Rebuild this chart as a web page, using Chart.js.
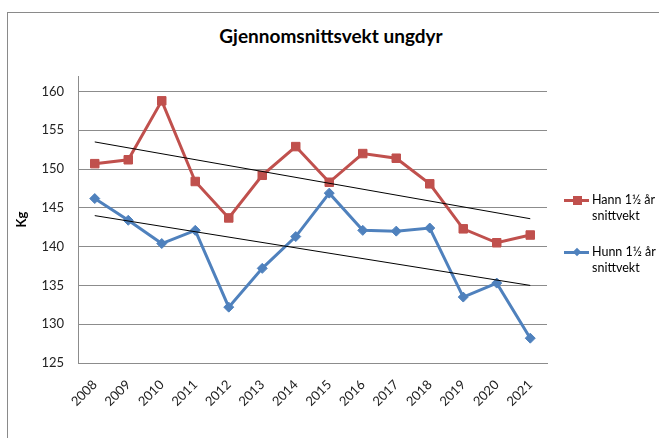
<!DOCTYPE html>
<html>
<head>
<meta charset="utf-8">
<script src="https://cdn.jsdelivr.net/npm/chart.js@4"></script>
<style>
  html, body { margin: 0; padding: 0; background: #fff; }
  #wrap { position: relative; width: 659px; height: 438px; overflow: hidden; }
  #frame { position: absolute; left: 7px; top: 12px; width: 700px; height: 500px;
           border-top: 1px solid #8a8a8a; border-left: 1px solid #8a8a8a; }
  #title { position: absolute; left: 0; width: 662px; top: 24px; text-align: center;
           font: bold 19px Lato, "Liberation Sans", sans-serif; color: #000; }
  canvas { position: absolute; left: 0; top: 0; }
  .lg { position: absolute; left: 564px; font: 12.5px Lato, "Liberation Sans", sans-serif;
        color: #000; line-height: 16px; }
  .lg .mk { position: absolute; left: 0; top: 6px; width: 25px; height: 3px; }
  .lg .txt { position: absolute; left: 28px; top: -1px; white-space: nowrap; }
</style>
</head>
<body>
<div id="wrap">
  <div id="frame"></div>
  <div id="title">Gjennomsnittsvekt ungdyr</div>
  <canvas id="c" width="659" height="438"></canvas>
  <div id="legend"></div>
</div>
<script>
const years = ['2008','2009','2010','2011','2012','2013','2014','2015','2016','2017','2018','2019','2020','2021'];
const hann = [150.7, 151.2, 158.8, 148.4, 143.7, 149.2, 152.9, 148.3, 152.0, 151.4, 148.1, 142.3, 140.5, 141.5];
const hunn = [146.2, 143.4, 140.4, 142.1, 132.2, 137.2, 141.3, 146.9, 142.1, 142.0, 142.4, 133.5, 135.3, 128.2];
const hannTrend = [153.5, null, null, null, null, null, null, null, null, null, null, null, null, 143.6];
const hunnTrend = [144.0, null, null, null, null, null, null, null, null, null, null, null, null, 135.0];
const yTicks = [125, 130, 135, 140, 145, 150, 155, 160];
const seriesNames = [['Hann 1½ år', 'snittvekt'], ['Hunn 1½ år', 'snittvekt']];
const yTitle = 'Kg';

const RED = '#C0504D', BLUE = '#4F81BD', GRID = '#8c8c8c';
const FONT = 'Lato, "Liberation Sans", sans-serif';

new Chart(document.getElementById('c'), {
  type: 'line',
  data: {
    labels: years,
    datasets: [
      { label: 'trend hann', data: hannTrend, spanGaps: true, borderColor: '#000', borderWidth: 1,
        pointRadius: 0, fill: false, order: 0 },
      { label: 'trend hunn', data: hunnTrend, spanGaps: true, borderColor: '#000', borderWidth: 1,
        pointRadius: 0, fill: false, order: 0 },
      { label: seriesNames[0].join(' '), data: hann, borderColor: RED, backgroundColor: RED,
        borderWidth: 3, pointStyle: 'rect', pointRadius: 6, pointBorderWidth: 1,
        tension: 0, order: 1 },
      { label: seriesNames[1].join(' '), data: hunn, borderColor: BLUE, backgroundColor: BLUE,
        borderWidth: 3, pointStyle: 'rectRot', pointRadius: 5, pointBorderWidth: 1,
        tension: 0, order: 1 }
    ]
  },
  options: {
    responsive: false,
    animation: false,
    layout: { padding: { left: 8, right: 112, top: 76, bottom: 0 } },
    plugins: { legend: { display: false }, tooltip: { enabled: false }, title: { display: false } },
    scales: {
      x: {
        offset: true,
        grid: { display: false },
        border: { display: true, color: GRID, width: 1 },
        ticks: { color: '#222', font: { family: FONT, size: 13 }, maxRotation: 45, minRotation: 45,
                 padding: 6, autoSkip: false },
        afterFit: s => { s.height = 75; }
      },
      y: {
        min: 125, max: 162,
        afterBuildTicks: s => { s.ticks = yTicks.map(v => ({ value: v })); },
        grid: { color: GRID, lineWidth: 1, drawTicks: false },
        border: { display: true, color: GRID, width: 1 },
        ticks: { color: '#222', font: { family: FONT, size: 13 }, padding: 14 },
        title: { display: true, text: yTitle, color: '#000', font: { family: FONT, size: 13, weight: 'bold' },
                 padding: { top: 6, bottom: 0 } },
        afterFit: s => { s.width = 70; }
      }
    }
  }
});

// legend
const lg = document.getElementById('legend');
const cols = [RED, BLUE];
const tops = [193, 245];
seriesNames.forEach((nm, i) => {
  const d = document.createElement('div');
  d.className = 'lg';
  d.style.top = tops[i] + 'px';
  const mk = document.createElement('div');
  mk.className = 'mk';
  mk.style.background = cols[i];
  const pt = document.createElement('div');
  pt.style.position = 'absolute';
  pt.style.background = cols[i];
  if (i === 0) { pt.style.left = '9px'; pt.style.top = '3px'; pt.style.width = '9px'; pt.style.height = '9px'; }
  else { pt.style.left = '10px'; pt.style.top = '4px'; pt.style.width = '6px'; pt.style.height = '6px'; pt.style.transform = 'rotate(45deg)'; }
  const t = document.createElement('div');
  t.className = 'txt';
  t.innerHTML = nm.join('<br>');
  d.appendChild(mk); d.appendChild(pt); d.appendChild(t);
  lg.appendChild(d);
});
</script>
</body>
</html>
